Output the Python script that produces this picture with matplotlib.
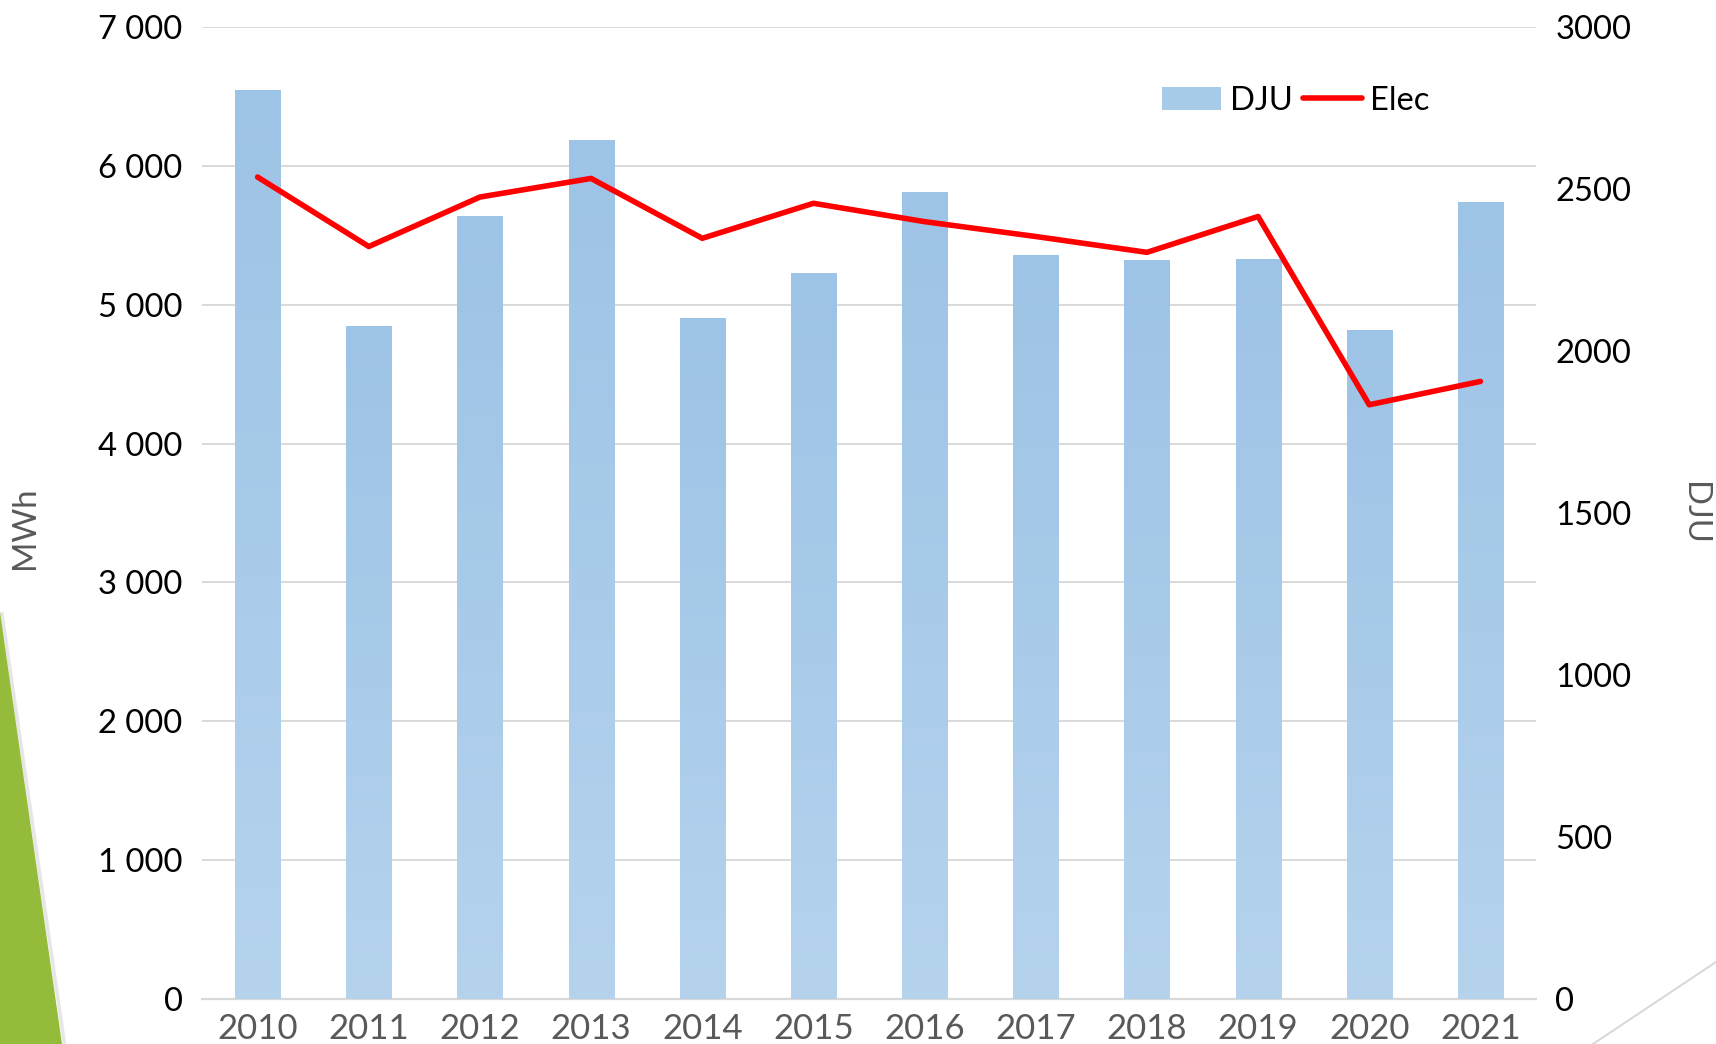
import numpy as np
import matplotlib
matplotlib.use("Agg")
import matplotlib.pyplot as plt
from matplotlib.colors import LinearSegmentedColormap
from matplotlib.patches import Polygon, Patch
from matplotlib.lines import Line2D
from matplotlib.ticker import FuncFormatter, MultipleLocator

plt.rcParams['font.family'] = ['Lato', 'DejaVu Sans']

years = ["2010", "2011", "2012", "2013", "2014", "2015", "2016", "2017",
         "2018", "2019", "2020", "2021"]
dju = [2805, 2077, 2416, 2651, 2101, 2241, 2490, 2296, 2280, 2284, 2065, 2460]
elec = [5918, 5418, 5774, 5908, 5477, 5729, 5597, 5490, 5376, 5634, 4279, 4447]

FS = 23.6
GRID = '#D9D9D9'
GRAY = '#595959'

fig = plt.figure(figsize=(17.16, 10.44), dpi=100)

# decorative slide elements
fig.patches.append(Polygon([(0, 1 - 612 / 1044), (62 / 1716, 0), (0, 0)],
                           closed=True, transform=fig.transFigure,
                           facecolor='#94BC3A', edgecolor='none', zorder=0))
fig.lines.append(Line2D([64.5 / 1716, 2 / 1716], [0, 1 - 614 / 1044],
                        transform=fig.transFigure, color='#E6E6E6', lw=2.5, zorder=0))
fig.lines.append(Line2D([1593 / 1716, 1.0], [0, (1044 - 962) / 1044],
                        transform=fig.transFigure, color=GRID, lw=1.5, zorder=0))

rect = [202 / 1716, (1044 - 999.3) / 1044, (1536 - 202) / 1716, (999.3 - 26.7) / 1044]
ax = fig.add_axes(rect)          # Elec scale, gridlines, left ticks
ax2 = ax.twinx()                 # DJU bars, right ticks
ax3 = ax.twinx()                 # Elec line on top

x = np.arange(len(years))

# gridlines / left axis
ax.set_ylim(0, 7000)
ax.yaxis.set_major_locator(MultipleLocator(1000))
ax.yaxis.set_major_formatter(FuncFormatter(lambda v, p: f"{int(v):,}".replace(",", " ")))
ax.grid(axis='y', color=GRID, lw=1.4)
ax.set_axisbelow(True)
ax.tick_params(axis='y', length=0, pad=14, labelsize=FS, labelcolor='black')
ax.tick_params(axis='x', length=0, pad=10, labelsize=25, labelcolor=GRAY)
ax.set_xticks(x)
ax.set_xticklabels(years)
for s in ['top', 'left', 'right']:
    ax.spines[s].set_visible(False)
ax.spines['bottom'].set_color(GRID)
ax.spines['bottom'].set_linewidth(1.6)
ax.set_ylabel("MWh", fontsize=FS, color=GRAY, va='center')
ax.yaxis.set_label_coords((25 - 202) / 1334, 0.485)

# bars with vertical gradient
bars = ax2.bar(x, dju, width=0.405, color='#A9CBEA', zorder=2)
cmap = LinearSegmentedColormap.from_list('g', ['#B5D3ED', '#9DC3E6'])
grad = np.linspace(0, 1, 256).reshape(-1, 1)
for b in bars:
    x0, w, h = b.get_x(), b.get_width(), b.get_height()
    im = ax2.imshow(grad, extent=(x0, x0 + w, 0, h), origin='lower', cmap=cmap,
                    aspect='auto', zorder=2.1, interpolation='bicubic')
    im.set_clip_path(b)
ax2.set_xlim(-0.5, len(years) - 0.5)
ax2.set_ylim(0, 3000)
ax2.yaxis.set_major_locator(MultipleLocator(500))
ax2.tick_params(axis='y', length=0, pad=14, labelsize=FS, labelcolor='black')
for s in ['top', 'left', 'right', 'bottom']:
    ax2.spines[s].set_visible(False)
ax2.set_ylabel("DJU", fontsize=FS, color=GRAY, rotation=270, va='center')
ax2.yaxis.set_label_coords(1 + (1694 - 1536) / 1334, 0.50)

# Elec line
ax3.plot(x, elec, color='#FF0000', lw=4.0, solid_capstyle='round',
         solid_joinstyle='round', zorder=3)
ax3.set_ylim(ax.get_ylim())
ax3.set_xlim(-0.5, len(years) - 0.5)
ax3.axis('off')
ax.set_xlim(-0.5, len(years) - 0.5)

handles = [Patch(facecolor='#A9CBEA', edgecolor='none'),
           Line2D([0], [0], color='#FF0000', lw=4.0, solid_capstyle='round')]
fig.legend(handles, ["DJU", "Elec"], loc='center left',
           bbox_to_anchor=(1162 / 1716, 1 - 100.5 / 1044), bbox_transform=fig.transFigure,
           ncol=2, frameon=False, fontsize=FS, handlelength=1.8, handletextpad=0.27,
           columnspacing=0.3, borderpad=0, borderaxespad=0)

fig.savefig("out.png", dpi=100)
